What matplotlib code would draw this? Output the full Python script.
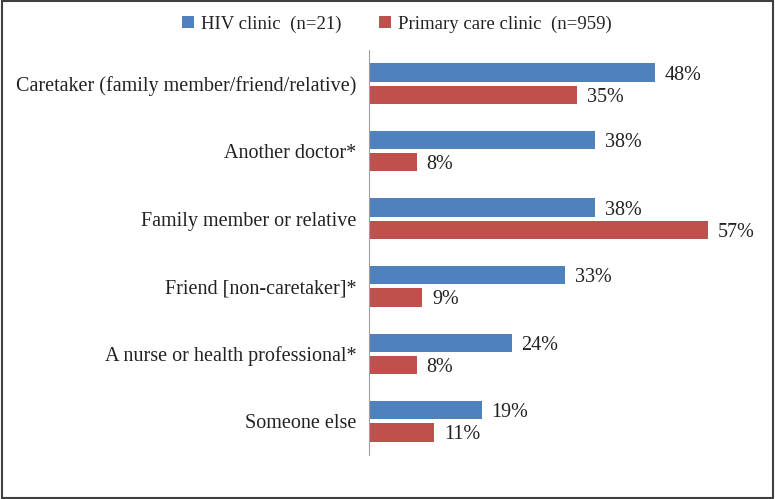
import numpy as np
import matplotlib.pyplot as plt
from matplotlib.patches import Rectangle

categories = [
    'Caretaker (family member/friend/relative)',
    'Another doctor*',
    'Family member or relative',
    'Friend [non-caretaker]*',
    'A nurse or health professional*',
    'Someone else',
]
hiv_values = [48, 38, 38, 33, 24, 19]
primary_values = [35, 8, 57, 9, 8, 11]
series_labels = ['HIV clinic  (n=21)', 'Primary care clinic  (n=959)']
BLUE = '#4F81BD'
RED = '#C0504D'

plt.rcParams['font.family'] = ['Liberation Serif', 'DejaVu Serif']

fig = plt.figure(figsize=(7.75, 4.99), dpi=100)
ax = fig.add_axes([0.476, 0.088, 0.461, 0.812])

y = np.arange(len(categories))
h = 0.27
off = 0.165
b1 = ax.barh(y - off, hiv_values, height=h, color=BLUE, label=series_labels[0])
b2 = ax.barh(y + off, primary_values, height=h, color=RED, label=series_labels[1])

# value labels to the right of each bar
for bars, vals in ((b1, hiv_values), (b2, primary_values)):
    for bar, v in zip(bars, vals):
        ax.text(bar.get_width() + 1.6, bar.get_y() + bar.get_height() / 2,
                f'{v}%', va='center_baseline', ha='left', fontsize=14.5,
                color='#222222')

ax.set_ylim(len(categories) - 0.5, -0.5)
ax.set_xlim(0, 60)
ax.set_yticks(y)
ax.set_yticklabels(categories, fontsize=14.5, color='#222222')
ax.tick_params(axis='y', length=0, pad=9)
ax.set_xticks([])
for side in ('top', 'right', 'bottom'):
    ax.spines[side].set_visible(False)
ax.spines['left'].set_color('#A0A0A0')
ax.spines['left'].set_linewidth(0.8)

leg = fig.legend(handles=[b1, b2], loc='center', bbox_to_anchor=(0.512, 0.952),
                 ncol=2, frameon=False,
                 prop={'family': 'Liberation Serif', 'size': 13.5},
                 handlelength=0.65, handleheight=0.65, handletextpad=0.35,
                 columnspacing=2.0)
for t in leg.get_texts():
    t.set_color('#222222')

# frame around the whole figure
fig.patches.append(Rectangle((0.002, 0.002), 0.996, 0.996, transform=fig.transFigure,
                             fill=False, edgecolor='#404040', linewidth=1.5))

fig.savefig('out.png', dpi=100)
